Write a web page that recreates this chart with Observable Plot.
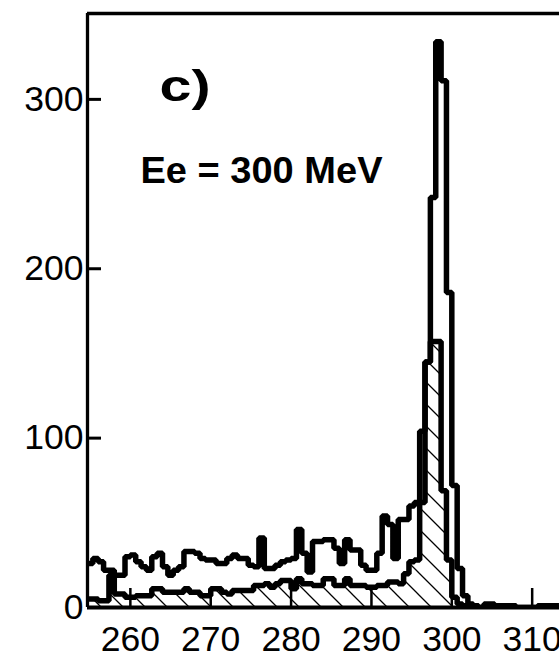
<!DOCTYPE html>
<html><head><meta charset="utf-8">
<script src="https://cdn.jsdelivr.net/npm/d3@7"></script>
<script src="https://cdn.jsdelivr.net/npm/@observablehq/plot@0.6"></script>
<style>
html,body{margin:0;padding:0;background:#fff;overflow:hidden}
#chart{width:559px;height:654px}
</style></head><body>
<div id="chart"></div>
<script>
// histogram binning (MeV)
const binStart = 254.667;
const binWidth = 2/3;
// open (total) histogram counts per bin
const total = [26,29,27,22,22,19,19,30,31,27,
  24,22,30,32,24,19,22,24,33,33,
  32,29,28,28,26,26,29,31,29,29,
  25,24,41,23,23,25,27,28,29,46,
  32,21,39,39,40,40,35,26,40,34,
  34,25,22,22,32,54,49,29,52,52,
  60,62,104,145,242,334,311,186,72,23,
  7,2,1,0,2,2,1,1,1,1,
  0,0,0,0,1,1,1,1];
// hatched histogram counts per bin
const hatched = [5,5,4,4,19,8,8,6,6,7,
  7,7,11,11,9,9,9,9,11,9,
  9,7,7,11,11,9,8,10,10,10,
  10,13,13,14,12,14,16,16,11,17,
  14,14,13,13,17,17,13,13,17,13,
  13,13,12,12,13,13,15,15,14,20,
  27,28,62,145,157,157,69,28,6,2,
  1,0,0,0,0,0,0,0,0,0,
  0,0,0,0,0,0,0,0];
const xTicks = [260,270,280,290,300,310];
const yTicks = [0,100,200,300];
const xDomain = [254.667, 313.4];
const yDomain = [0, 350.7];
const panelLabel = "c)";
const energyLabel = "Ee = 300 MeV";

const W = 559, H = 654, mL = 87, mR = 0, mT = 13, mB = 47;
const plotW = W - mL - mR, plotH = H - mT - mB;
const font = "'Liberation Sans', Arial, Helvetica, sans-serif";

function stepPoints(vals) {
  const pts = vals.map((v, i) => ({x: binStart + i * binWidth, y: v}));
  pts.push({x: binStart + vals.length * binWidth, y: vals[vals.length - 1]});
  return pts;
}
const totalPts = stepPoints(total);
const hatchPts = stepPoints(hatched);
const lineStyle = {x: "x", y: "y", curve: "step-after", stroke: "black", strokeWidth: 5.5, strokeLinejoin: "miter", strokeLinecap: "butt", clip: true};

const chart = Plot.plot({
  width: W, height: H,
  marginLeft: mL, marginRight: mR, marginTop: mT, marginBottom: mB,
  style: {fontFamily: font, background: "white", overflow: "visible"},
  x: {domain: xDomain, axis: null},
  y: {domain: yDomain, axis: null},
  marks: [
    Plot.areaY(hatchPts, {x: "x", y: "y", curve: "step-after", fill: "url(#hatch)", clip: true}),
    Plot.line(hatchPts, lineStyle),
    Plot.line(totalPts, lineStyle),
    // frame: left, top, bottom
    Plot.ruleX([xDomain[0]], {stroke: "black", strokeWidth: 3.3}),
    Plot.ruleY([yDomain[1]], {stroke: "black", strokeWidth: 3.3}),
    Plot.ruleY([yDomain[0]], {stroke: "black", strokeWidth: 4}),
    // inward ticks
    Plot.ruleX(xTicks, {stroke: "black", strokeWidth: 2.5, insetTop: plotH - 19}),
    Plot.ruleY(yTicks, {stroke: "black", strokeWidth: 3, insetRight: plotW - 14}),
    // tick labels
    Plot.text(xTicks, {x: d => d, frameAnchor: "bottom", dy: 43, lineAnchor: "bottom", textAnchor: "middle", fontSize: 35.5, fill: "black"}),
    Plot.text(yTicks, {y: d => d, frameAnchor: "left", dx: -4, lineAnchor: "middle", textAnchor: "end", fontSize: 35.5, fill: "black"}),
    // annotations
    Plot.text([panelLabel], {frameAnchor: "top-left", dx: 72, dy: 87, lineAnchor: "bottom", textAnchor: "start", fontSize: 45, fontWeight: "bold", fill: "black"}),
    Plot.text([energyLabel], {frameAnchor: "top-left", dx: 53, dy: 169, lineAnchor: "bottom", textAnchor: "start", fontSize: 37.5, fontWeight: "bold", fill: "black"})
  ]
});

const svgEl = chart.tagName.toLowerCase() === "svg" ? chart : chart.querySelector("svg");
const ns = "http://www.w3.org/2000/svg";
const defs = document.createElementNS(ns, "defs");
defs.innerHTML = '<pattern id="hatch" patternUnits="userSpaceOnUse" width="22" height="22">' +
  '<path d="M0,0L22,22M-2,20L2,24M20,-2L24,2" stroke="black" stroke-width="1.3" fill="none"/></pattern>';
svgEl.insertBefore(defs, svgEl.firstChild);
// widen the bold annotation glyphs like the original lettering
svgEl.querySelectorAll("text").forEach(t => {
  if (t.textContent === panelLabel) { t.setAttribute("textLength", 51); t.setAttribute("lengthAdjust", "spacingAndGlyphs"); }
  if (t.textContent === energyLabel) { t.setAttribute("textLength", 242); t.setAttribute("lengthAdjust", "spacingAndGlyphs"); }
});
document.getElementById("chart").appendChild(chart);
</script>
</body></html>
